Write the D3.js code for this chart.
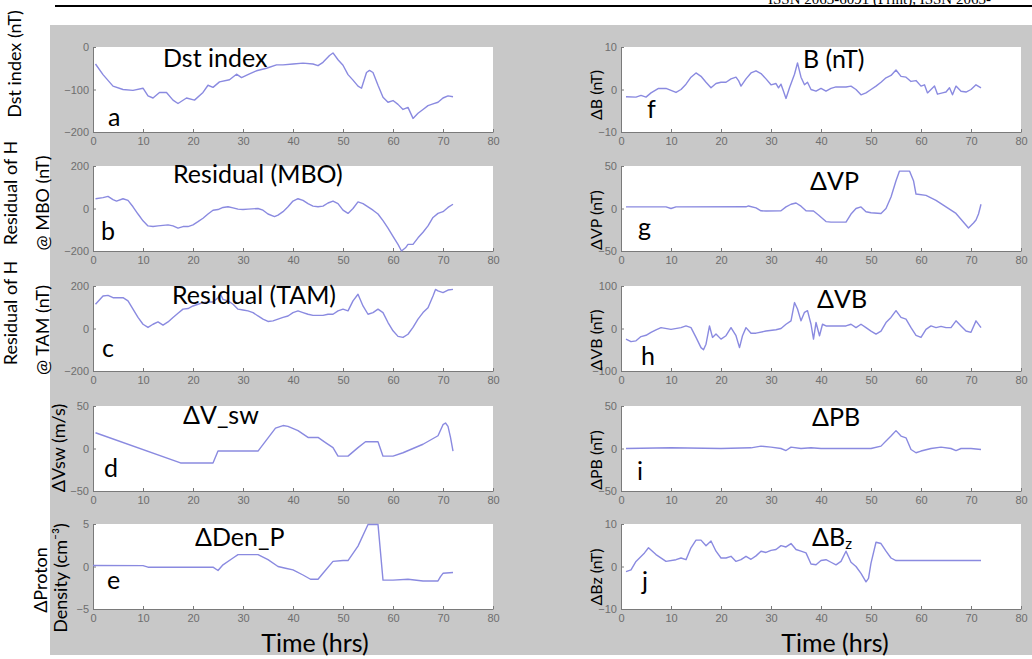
<!DOCTYPE html>
<html>
<head>
<meta charset="utf-8">
<script src="https://cdn.jsdelivr.net/npm/d3@7"></script>
<style>
  body { margin: 0; background: #fff; }
  svg { display: block; }
</style>
</head>
<body>
<div id="chart"></div>
<script>
// hours on the x axis, shared tick labels
var xTicks = [0, 10, 20, 30, 40, 50, 60, 70, 80];

// each series is [hour, value]
var dst = [[0.5,-40],[2,-65],[4,-92],[6,-100],[8,-102],[10,-97],[11,-115],[12,-120],[13.3,-107],[14.7,-107],[16,-125],[17,-133],[18.7,-120],[20.3,-125],[22,-107],[23,-90],[24,-95],[25.3,-82],[27.3,-77],[28.7,-64],[29.7,-72],[31.3,-63],[32.7,-56],[34.7,-50],[36.7,-42],[38,-42],[40,-40],[42,-38],[44,-40],[45,-44],[46,-36],[47.3,-20],[48,-14],[49,-30],[50,-43],[51,-65],[52,-78],[53,-92],[53.7,-97],[54.7,-60],[55.3,-55],[56,-60],[57,-90],[58,-118],[59,-130],[60,-126],[61,-135],[62,-147],[63,-142],[63.5,-155],[64,-168],[65,-156],[66,-147],[67,-138],[68,-134],[69,-130],[70,-120],[71,-115],[72,-117]];

var resMBO = [[0.5,46],[2,51],[3,57],[4,42],[4.7,35],[6,46],[7,38],[8,8],[9,-26],[10,-58],[11,-82],[12,-85],[13,-82],[15,-77],[16,-82],[17,-92],[18,-85],[19,-85],[20,-77],[21,-62],[22,-46],[23,-26],[24,-8],[25,-5],[26,5],[27,8],[28,3],[29,-3],[30,-5],[31,-3],[33,0],[34,-8],[35,-26],[36.3,-38],[37,-31],[38,-15],[39,8],[40,35],[41,46],[42,38],[43,23],[44,11],[45,8],[46,11],[47,26],[48,35],[49,23],[50,-8],[51,-23],[52,0],[53,31],[54,23],[55,8],[56,-8],[57,-26],[58,-57],[59,-92],[60,-131],[61,-169],[61.7,-200],[62.5,-185],[63,-169],[64,-169],[65,-138],[66,-112],[67,-82],[68,-42],[69,-23],[70,-15],[71,5],[72,20]];

var resTAM = [[0.5,114],[2,153],[3,156],[4,145],[6,145],[7,130],[8,91],[9,52],[10,20],[11,5],[12,20],[13,31],[14,16],[15,31],[16,52],[17,72],[18,91],[19,94],[20,106],[21,114],[22,122],[23,125],[24,125],[25,145],[25.5,161],[26,137],[27,130],[28,114],[29,91],[30,87],[31,83],[32,75],[33,59],[34,44],[35,33],[36,36],[37,44],[38,52],[39,59],[40,75],[41,83],[42,75],[43,67],[44,62],[46,62],[47,67],[48,67],[49,83],[50,91],[51,83],[52,130],[53,161],[54,106],[55,67],[56,75],[57,91],[58,75],[59,28],[60,-11],[61,-37],[62,-42],[63,-27],[64,5],[65,44],[66,75],[67,98],[68,153],[68.5,184],[69,177],[70,169],[71,181],[72,184]];

var dVsw = [[0.5,18.5],[17.5,-17],[24,-17],[25,-3],[33,-3],[36.5,24],[38,27],[39,26],[41,21],[43,13],[45,13],[46.5,7],[48,1],[49,-9],[51,-9],[53,1],[54.5,8],[57,8],[58,-9],[60,-9],[62,-5],[66,5],[69,15],[70,28],[70.5,30],[71,26],[71.5,13],[72,-3]];

var dDen = [[0,0.12],[10,0.1],[11,-0.08],[24,-0.08],[25,-0.47],[26,0.2],[28,1.0],[29,1.4],[33,1.4],[35,0.8],[37,0],[38.5,-0.2],[40,-0.4],[42,-1.0],[43.5,-1.5],[45,-1.5],[46,-0.8],[48,0.6],[50,0.7],[51,0.7],[53,2.4],[55,4.95],[57,4.95],[58,-1.6],[60,-1.6],[63,-1.5],[66,-1.7],[69,-1.7],[69.5,-1.2],[70,-0.8],[72,-0.7]];

var dB = [[1,-1.7],[3,-1.8],[4,-1.4],[5,-1.8],[6,-0.8],[7.5,0.25],[9,0.25],[11,-0.7],[12,0],[13,1.25],[14,2.9],[15,3.9],[16,3.1],[17,1.7],[18,0.4],[19,1.4],[20,1.7],[21,1.7],[22,2.5],[23,2.9],[23.5,2.1],[24,0.8],[25,2.5],[26,3.9],[27,4.4],[28,3.75],[29,2.5],[30,1.1],[31,1.4],[31.5,0.4],[32,1.25],[32.5,-0.4],[33,-2.1],[33.7,0.4],[34.7,3.6],[35.3,6.25],[36,2.9],[36.7,1.1],[37.3,1.7],[38,0],[39,-0.4],[40,0.25],[41,-0.4],[42,0.25],[43,0.6],[45,0.6],[46,0.8],[47,0],[48,-1.25],[49,-0.8],[50,0],[51,0.8],[52,1.7],[53,2.75],[54,3.3],[55,4.6],[56,3.1],[57,2.9],[58,1.9],[59,2.1],[60,0.8],[60.7,1.1],[61.3,-0.8],[62,0],[62.7,0.8],[63.3,-1.1],[64.3,-0.8],[65,-0.6],[65.7,0.4],[66.3,-1.25],[67,0.8],[68,-0.4],[69,-0.6],[70,0],[71,1.1],[72,0.4]];

var dVP = [[1,1.9],[9,1.9],[10,0],[11,1.9],[25,2],[25.5,3],[27,0.8],[28,-2.7],[29,-3],[32,-2.7],[33,1.9],[34,5],[35,6.5],[36,2.7],[37,-2.7],[38.5,-3],[39.5,-7.7],[41,-15.4],[42,-16],[45,-16],[46,-6.5],[47,0],[48,1.9],[49,-3.8],[50,-5],[52,-5.8],[53,0],[54,13.5],[55,32.7],[55.7,44],[57.7,44],[58.5,32.7],[59,17],[61,15.4],[63,9.6],[65,1.9],[67,-5.8],[69.5,-23],[70.5,-17],[71,-13.5],[71.5,-6.5],[72,5]];

var dVB = [[1,-25],[2,-31],[3,-29],[4,-19],[5,-16],[6,-9],[7,-3],[8,2],[10,-2],[12,2],[13,6],[14,2],[15,-21],[16,-45],[16.5,-50],[17,-37],[17.7,6],[18.3,-21],[19,-13],[20,-25],[21,-17],[22,2],[23,-17],[23.7,-45],[24.3,-17],[25,2],[26,-11],[27,-11],[29,-6],[31,-3],[32,0],[33,10],[34,18],[34.7,61],[35.3,46],[36,18],[36.7,38],[37.3,42],[38,10],[38.5,-25],[39,14],[39.7,-17],[40.3,10],[41,6],[43,6],[45,6],[46,10],[47,2],[48,10],[49,2],[50,-6],[51,-13],[52,-6],[53,14],[54,26],[55,42],[56,26],[57,22],[58,2],[59,-16],[60,-21],[61,-2],[62,6],[63,2],[64,5],[65,2],[66,2],[67,18],[68,6],[69,-6],[70,-9],[71,18],[72,2]];

var dPB = [[1,0],[10,0.8],[20,0],[26,0.8],[28,2.8],[30,1.6],[32,0],[33,-2.4],[34,1.6],[36,0],[38,0.8],[40,0],[46,0],[50,0],[52,2.8],[53,8.7],[54,14.6],[55,21],[56,14.6],[57,12.6],[58,-1.2],[59,-5],[60,-3],[62,0],[64,1.6],[66,0],[67,-2.4],[68,0],[70,0],[72,-1.2]];

var dBz = [[1,-1.2],[2,-0.8],[3,1.2],[4.7,3.2],[5.5,4.4],[7,2.8],[9,1.2],[11,1.6],[12,2],[13,1.6],[14,4.4],[15,6.2],[16,6.2],[17,4.9],[18,6],[19,3.6],[20,2],[21,2],[22,2.4],[23,1.2],[24,1.6],[25,2.4],[26,1.7],[27,2.5],[28,3.6],[29,3.3],[30,3.8],[31,4],[32,4.9],[33,4.6],[34,5.4],[35,4],[36,3.6],[37,3.2],[38,0.6],[39,0.4],[40,1.4],[41,1.6],[42,1],[43,0.4],[44,1.2],[45,3.6],[46,1],[47,0],[48,-1.6],[49,-3.6],[49.5,-2.8],[50,0.8],[51,5.7],[52,5.4],[53,3.6],[54,2],[55,1.4],[72,1.4]];

// panel descriptions: col, row, y limits, texts
var panels = [
  {col: 0, row: 0, data: dst,    yLim: 200, yMax: 0,   title: ["Dst index"],      letter: "a", ylab: ["Dst index (nT)"]},
  {col: 0, row: 1, data: resMBO, yLim: 200, yMax: 200, title: ["Residual (MBO)"], letter: "b", ylab: ["Residual of H", "@ MBO (nT)"]},
  {col: 0, row: 2, data: resTAM, yLim: 200, yMax: 200, title: ["Residual (TAM)"], letter: "c", ylab: ["Residual of H", "@ TAM (nT)"]},
  {col: 0, row: 3, data: dVsw,   yLim: 50,  yMax: 50,  title: ["ΔV_sw"],          letter: "d", ylab: ["ΔVsw (m/s)"]},
  {col: 0, row: 4, data: dDen,   yLim: 5,   yMax: 5,   title: ["ΔDen_P"],         letter: "e", ylab: ["ΔProton", "Density (cm⁻³)"]},
  {col: 1, row: 0, data: dB,     yLim: 10,  yMax: 10,  title: ["B (nT)"],         letter: "f", ylab: ["ΔB (nT)"]},
  {col: 1, row: 1, data: dVP,    yLim: 50,  yMax: 50,  title: ["ΔVP"],            letter: "g", ylab: ["ΔVP (nT)"]},
  {col: 1, row: 2, data: dVB,    yLim: 100, yMax: 100, title: ["ΔVB"],            letter: "h", ylab: ["ΔVB (nT)"]},
  {col: 1, row: 3, data: dPB,    yLim: 50,  yMax: 50,  title: ["ΔPB"],            letter: "i", ylab: ["ΔPB (nT)"]},
  {col: 1, row: 4, data: dBz,    yLim: 10,  yMax: 10,  title: ["ΔB", "z"],        letter: "j", ylab: ["ΔBz (nT)"]}
];

var width = 1032, height = 659;
var colX = [93, 621], plotW = 400;
var rowTop = [47, 166, 286, 406, 524], plotH = 85;

// label placement (hand tuned against the picture)
var titlePos = [[163, 67], [173, 183], [172, 304], [183, 424], [195, 546], [803, 68], [810, 190], [817, 308], [812, 426], [812, 546]];
var letterPos = [[108, 126], [101, 240], [102, 357], [104, 477], [107, 589], [647, 118], [638, 236], [641, 365], [637, 480], [642, 590]];
var ylabPos = [
  [[14, 64]],
  [[10, 193], [42, 203]],
  [[10, 313], [42, 330]],
  [[58, 448]],
  [[40, 580], [60, 578]],
  [[595, 95]], [[595, 220]], [[595, 340]], [[595, 460]], [[595, 577]]
];

var svg = d3.select("#chart").append("svg")
    .attr("width", width)
    .attr("height", height)
    .attr("viewBox", [0, 0, width, height]);

// header rule and the journal line, cut off at the top like the page scan
svg.append("text")
    .attr("x", 768).attr("y", 4)
    .attr("font-family", "Liberation Serif")
    .attr("font-size", 15)
    .text("ISSN 2063-6091 (Print), ISSN 2063-");
svg.append("line")
    .attr("x1", 55).attr("x2", width)
    .attr("y1", 6).attr("y2", 6)
    .attr("stroke", "#000").attr("stroke-width", 2);

// gray figure background
svg.append("rect")
    .attr("x", 50).attr("y", 25)
    .attr("width", width - 50).attr("height", 630)
    .attr("fill", "#c8c8c8");

var font = "Lato, 'Open Sans', sans-serif";

panels.forEach(function(p, k) {
  var x0 = colX[p.col], y0 = rowTop[p.row];
  var x = d3.scaleLinear().domain([0, 80]).range([x0, x0 + plotW]);
  var y = d3.scaleLinear().domain([-p.yLim, p.yMax]).range([y0 + plotH, y0]);

  svg.append("rect")
      .attr("x", x0).attr("y", y0)
      .attr("width", plotW).attr("height", plotH)
      .attr("fill", "#fff");

  var gx = svg.append("g")
      .attr("transform", "translate(0," + (y0 + plotH) + ")")
      .call(d3.axisBottom(x).tickValues(xTicks).tickSizeInner(-3).tickSizeOuter(0).tickPadding(5));
  var gy = svg.append("g")
      .attr("transform", "translate(" + x0 + ",0)")
      .call(d3.axisLeft(y).tickValues(p.yMax === 0 ? [-200, -100, 0] : [-p.yLim, 0, p.yMax]).tickSizeInner(-3).tickSizeOuter(0).tickPadding(4));
  [gx, gy].forEach(function(g) {
    g.select(".domain").attr("stroke", "#7a7a7a");
    g.selectAll(".tick line").attr("stroke", "#7a7a7a");
    g.selectAll(".tick text")
        .attr("fill", "#6e6e6e")
        .attr("font-family", "Liberation Sans")
        .attr("font-size", 11);
  });

  var line = d3.line()
      .x(function(d) { return x(d[0]); })
      .y(function(d) { return y(d[1]); });

  svg.append("path")
      .datum(p.data)
      .attr("fill", "none")
      .attr("stroke", "#8a8ae0")
      .attr("stroke-width", 1.4)
      .attr("stroke-linejoin", "round")
      .attr("d", line);

  // title inside the panel
  var t = svg.append("text")
      .attr("x", titlePos[k][0]).attr("y", titlePos[k][1])
      .attr("font-family", font)
      .attr("font-size", 25)
      .text(p.title[0]);
  if (p.title[1]) {
    t.append("tspan").attr("font-size", 15).attr("dy", 3).text(p.title[1]);
  }

  svg.append("text")
      .attr("x", letterPos[k][0]).attr("y", letterPos[k][1])
      .attr("font-family", font)
      .attr("font-size", 25)
      .text(p.letter);

  p.ylab.forEach(function(s, j) {
    var pos = ylabPos[k][j];
    svg.append("text")
        .attr("transform", "translate(" + pos[0] + "," + pos[1] + ") rotate(-90)")
        .attr("text-anchor", "middle")
        .attr("dominant-baseline", "central")
        .attr("font-family", font)
        .attr("font-size", p.col === 0 ? 18 : 16)
        .text(s);
  });
});

// shared x labels under each column
[315, 835].forEach(function(cx) {
  svg.append("text")
      .attr("x", cx).attr("y", 652)
      .attr("text-anchor", "middle")
      .attr("font-family", font)
      .attr("font-size", 25)
      .text("Time (hrs)");
});
</script>
</body>
</html>
